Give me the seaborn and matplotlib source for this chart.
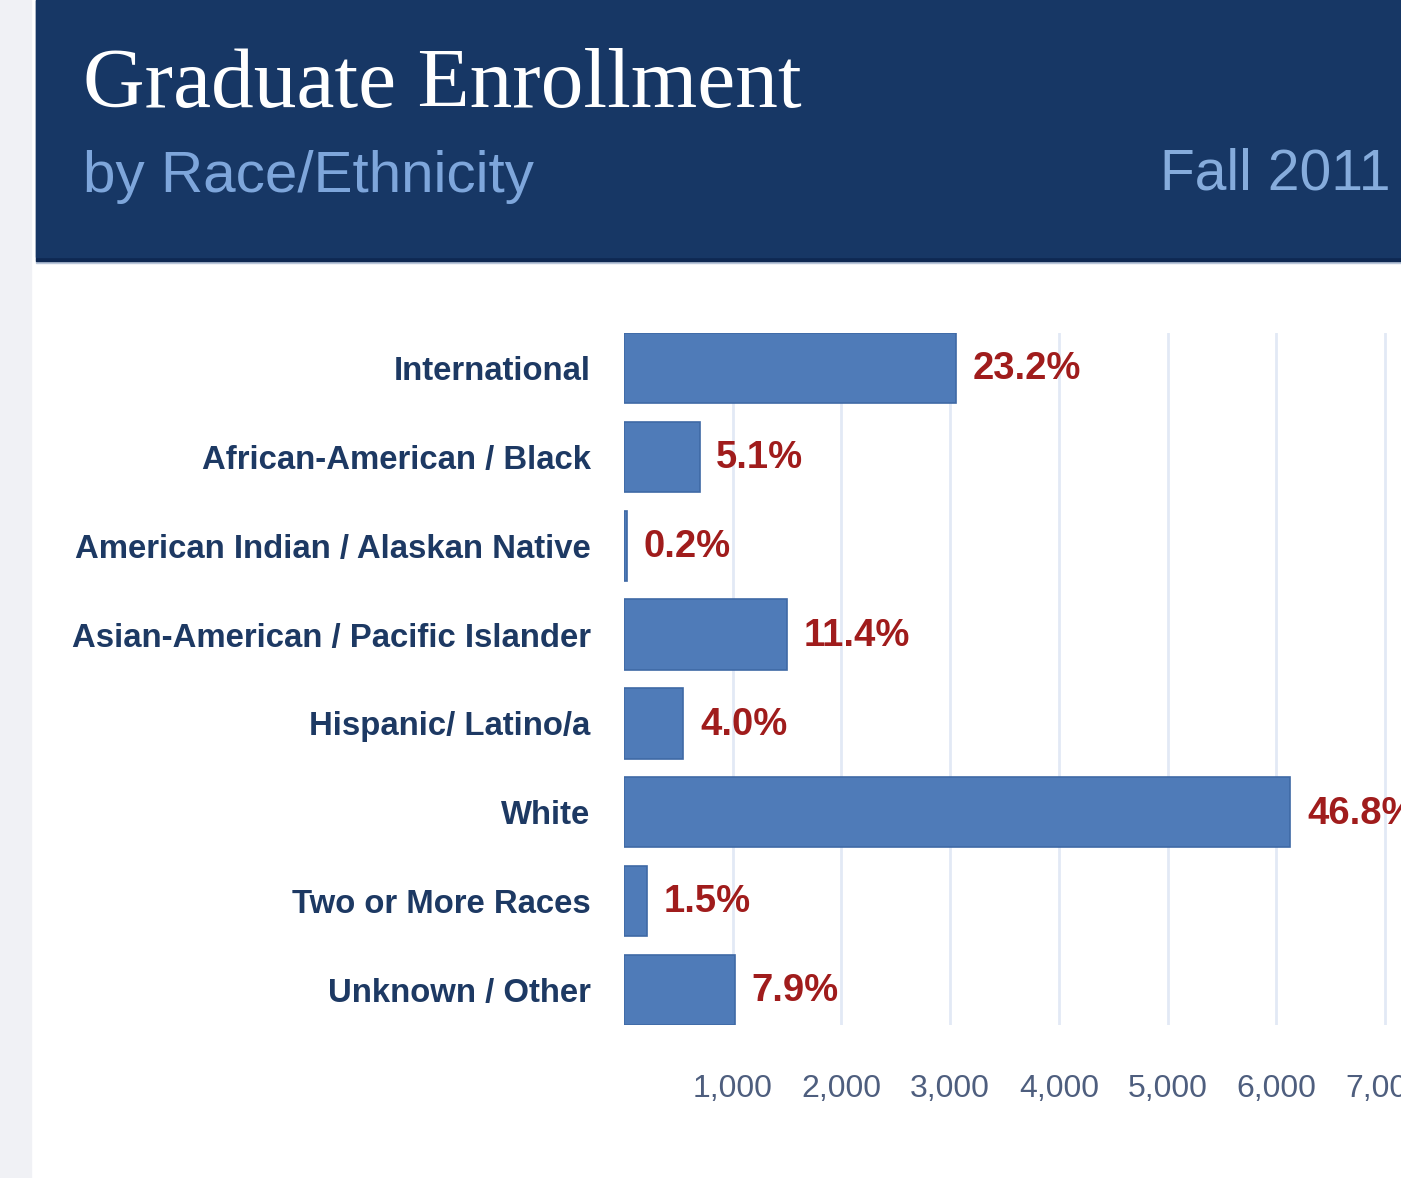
import numpy as np
import pandas as pd
import matplotlib
matplotlib.use("Agg")
import matplotlib.pyplot as plt
import seaborn as sns
from matplotlib.patches import Rectangle

# chart data
categories = ["International", "African-American / Black", "American Indian / Alaskan Native",
              "Asian-American / Pacific Islander", "Hispanic/ Latino/a", "White",
              "Two or More Races", "Unknown / Other"]
enrollment = [3050, 695, 30, 1500, 545, 6130, 210, 1020]
pct_labels = ["23.2%", "5.1%", "0.2%", "11.4%", "4.0%", "46.8%", "1.5%", "7.9%"]
x_ticks = [1000, 2000, 3000, 4000, 5000, 6000, 7000]
x_tick_labels = ["1,000", "2,000", "3,000", "4,000", "5,000", "6,000", "7,000"]

df = pd.DataFrame({"category": categories, "count": enrollment})

sns.set_theme(style="white")
plt.rcParams['font.family'] = ['Liberation Sans', 'DejaVu Sans']

W, H = 1401, 1178
fig = plt.figure(figsize=(W / 100, H / 100), dpi=100)
fig.patch.set_facecolor("white")

# left gray strip and navy header band
fig.add_artist(Rectangle((0, 0), 31 / W, 1, transform=fig.transFigure, color="#f0f1f5", zorder=0))
fig.add_artist(Rectangle((36 / W, 1 - 263 / H), 1, 5 / H, transform=fig.transFigure, color="#b9c6da", zorder=1))
fig.add_artist(Rectangle((36 / W, 1 - 261 / H), 1, 261 / H, transform=fig.transFigure, color="#0e2852", zorder=1))
fig.add_artist(Rectangle((36 / W, 1 - 257 / H), 1, 257 / H, transform=fig.transFigure, color="#173765", zorder=1))

fig.text(83 / W, 1 - 107 / H, "Graduate Enrollment", family=["Liberation Serif", "DejaVu Serif"],
         fontsize=61.5, color="white", va="baseline", ha="left", zorder=3)
fig.text(83 / W, 1 - 192 / H, "by Race/Ethnicity", fontsize=42, color="#7ea6db",
         va="baseline", ha="left", zorder=3)
fig.text(1390 / W, 1 - 190 / H, "Fall 2011", fontsize=41, color="#86acdc",
         va="baseline", ha="right", zorder=3)

# chart axes
left, right, top, bottom = 624, W, 333, 1025
ax = fig.add_axes([left / W, 1 - bottom / H, (right - left) / W, (bottom - top) / H])
sns.barplot(data=df, x="count", y="category", orient="h", color="#4f7bb8", saturation=1,
            width=0.79, edgecolor="#3f69a5", linewidth=1.2, ax=ax, zorder=3)

ax.set_xlim(0, (W - left) / 108.7 * 1000)
ax.set_ylim(len(categories) - 0.5 - 0.105, -0.5 + 0.105)
for t in x_ticks:
    ax.axvline(t, color="#e2e9f5", lw=2.0, zorder=1)

for i, (v, lab) in enumerate(zip(enrollment, pct_labels)):
    ax.annotate(lab, xy=(v, i), xytext=(12, -1), textcoords="offset points",
                va="center", ha="left", fontsize=27.5, fontweight="bold", color="#a01c1c",
                annotation_clip=False)

ax.set_xticks(x_ticks)
ax.set_xticklabels(x_tick_labels, fontsize=23, color="#4e5e7e")
ax.tick_params(axis="x", length=0, pad=35)
ax.tick_params(axis="y", length=0, pad=24)
for lbl in ax.get_yticklabels():
    lbl.set_fontsize(23.7)
    lbl.set_fontweight("bold")
    lbl.set_color("#1d3963")
ax.set_xlabel("")
ax.set_ylabel("")
ax.grid(False)
for s in ax.spines.values():
    s.set_visible(False)
ax.set_facecolor("none")

fig.savefig("out.png", dpi=100)
